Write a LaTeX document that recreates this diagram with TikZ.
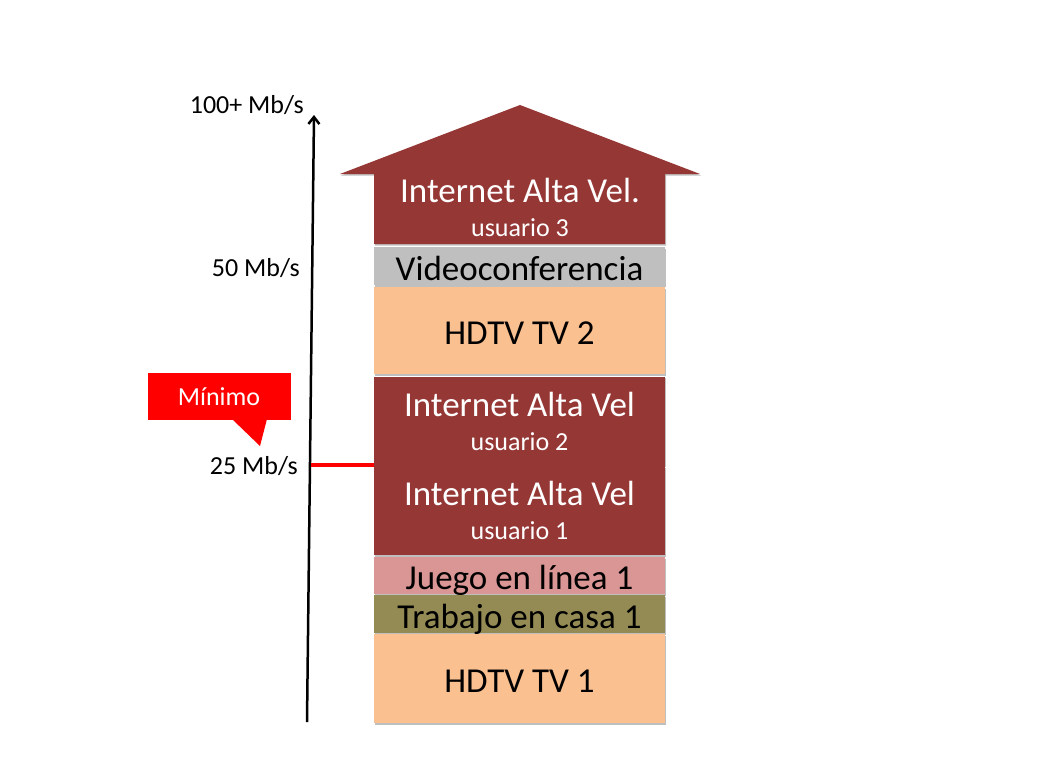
\documentclass[tikz,border=0pt]{standalone}
\usepackage{fontspec}
\setmainfont{Carlito}
\usetikzlibrary{arrows.meta,shadows}
\definecolor{dred}{HTML}{953735}
\definecolor{peach}{HTML}{FAC090}
\definecolor{lgray}{HTML}{BFBFBF}
\definecolor{pink}{HTML}{D99694}
\definecolor{olive}{HTML}{948A54}
\newcommand{\bigfs}{\fontsize{35}{42}\selectfont}
\newcommand{\smallfs}{\fontsize{26}{31}\selectfont}
\tikzset{
  layer/.style={draw=none, minimum width=291pt, inner sep=0pt, align=center,
    drop shadow={shadow xshift=1pt, shadow yshift=-1.5pt, opacity=0.25, fill=black}},
  big/.style={font=\bigfs},
  single/.style={font=\bigfs, text height=32pt, text depth=4pt},
  axlabel/.style={anchor=east, inner sep=0pt, font=\smallfs},
}
\begin{document}
\begin{tikzpicture}[x=1pt,y=-1pt]
\useasboundingbox (0,0) rectangle (1042,782);
% top arrow shape
\fill[dred, drop shadow={shadow xshift=1pt, shadow yshift=-1.5pt, opacity=0.25, fill=black}]
  (374,244) -- (374,174) -- (340,174) -- (520,105) -- (700,174) -- (665,174) -- (665,244) -- cycle;
\node[align=center, text=white, inner sep=0pt, font=\bigfs] (u3) at (520,207)
  {Internet Alta Vel.\\[-8pt]{\smallfs usuario 3}};
% layers
\node[layer, fill=lgray, minimum height=38pt, single] (video) at (519.5,266) {Videoconferencia};
\node[layer, fill=peach, minimum height=87pt, single] (hd2) at (519.5,330.5) {HDTV TV 2};
\node[layer, fill=dred, minimum height=89pt, text=white, big] (u2) at (519.5,421)
  {Internet Alta Vel\\[-8pt]{\smallfs usuario 2}};
\node[layer, fill=dred, minimum height=89pt, text=white, big] (u1) at (519.5,510.5)
  {Internet Alta Vel\\[-8pt]{\smallfs usuario 1}};
\node[layer, fill=pink, minimum height=37pt, single] (juego) at (519.5,575.5) {Juego en línea 1};
\node[layer, fill=olive, minimum height=38pt, single] (trab) at (519.5,614) {Trabajo en casa 1};
\node[layer, fill=peach, minimum height=89pt, single] (hd1) at (519.5,678.5) {HDTV TV 1};
% axis
\coordinate (axb) at (307,722);
\coordinate (axt) at (314,115);
\draw[line width=2.5pt, -{Straight Barb[length=7pt,width=11pt]}] (axb) -- (axt);
\node[axlabel] (l100) at (304,105) {100+ Mb/s};
\node[axlabel] (l50) at (300,268) {50 Mb/s};
\node[axlabel] (l25) at (298,466) {25 Mb/s};
% red minimum line
\coordinate (rs) at (311,464.5);
\draw[red, line width=4pt] (rs) -- (rs -| u1.west);
% callout
\node[fill=red, minimum width=143pt, minimum height=47pt, inner sep=0pt, text=white,
  font=\smallfs] (minimo) at (219,396.5) {Mínimo};
\coordinate (tip) at (260,446);
\fill[red] (232,419) -- (tip) -- (267,419) -- cycle;
\end{tikzpicture}
\end{document}
